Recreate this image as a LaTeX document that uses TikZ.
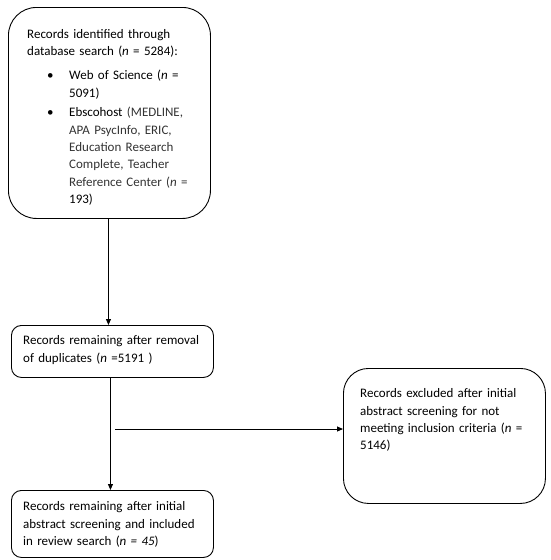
\documentclass[tikz,border=0pt]{standalone}
\usepackage{fontspec}
\setmainfont{Carlito}
\usetikzlibrary{arrows.meta}

\tikzset{
  recframe/.style={draw,line width=0.9pt,anchor=north west,inner sep=0pt},
  rectext/.style={anchor=north west,inner sep=0pt,align=left,text width=180pt,
    font=\fontsize{13}{17.3}\selectfont},
  flow/.style={line width=0.9pt,-{Triangle[length=6pt,width=5pt]}}
}
\newcommand{\itm}{\makebox[42pt][l]{\hspace*{20pt}\textbullet}}
\newcommand{\itc}{\hspace*{42pt}}
\newcommand{\db}[1]{{\color{black!80}#1}}

\begin{document}
\begin{tikzpicture}[x=1pt,y=-1pt]
\useasboundingbox (0,0) rectangle (550,560);
\node[recframe,rounded corners=28pt,minimum width=202pt,minimum height=211pt] (ident) at (8,7) {};
\node[recframe,rounded corners=10pt,minimum width=202pt,minimum height=52pt] (dupl) at (11,325) {};
\node[recframe,rounded corners=25pt,minimum width=202pt,minimum height=135pt] (excl) at (343,368) {};
\node[recframe,rounded corners=10pt,minimum width=202pt,minimum height=67pt] (incl) at (11,490) {};
\node[rectext] (identtxt) at ([shift={(19,22)}]ident.north west) {Records identified through\\
database search (\textit{n} = 5284):\\[7pt]
\itm Web of Science (\textit{n} =\\
\itc 5091)\\[2.5pt]
\itm Ebscohost \db{(MEDLINE,}\\
\itc \db{APA PsycInfo, ERIC,}\\
\itc \db{Education Research}\\
\itc \db{Complete, Teacher}\\
\itc \db{Reference Center (\textit{n} =}\\
\itc 193)};
\node[rectext] (dupltxt) at ([shift={(12,10.5)}]dupl.north west) {Records remaining after removal\\
of duplicates (\textit{n} =5191 )};
\node[rectext] (excltxt) at ([shift={(17,20.5)}]excl.north west) {Records excluded after initial\\
abstract screening for not\\
meeting inclusion criteria (\textit{n} =\\
5146)};
\node[rectext] (incltxt) at ([shift={(12,11.5)}]incl.north west) {Records remaining after initial\\
abstract screening and included\\
in review search (\textit{n = 45})};
\coordinate (split) at (115,429);
\draw[flow] ([xshift=-1pt]ident.south) -- ([xshift=-1pt]ident.south |- dupl.north);
\draw[flow] ([xshift=-2pt]dupl.south) -- ([xshift=-2pt]dupl.south |- incl.north);
\draw[flow] (split) -- (split -| excl.west);
\end{tikzpicture}
\end{document}
